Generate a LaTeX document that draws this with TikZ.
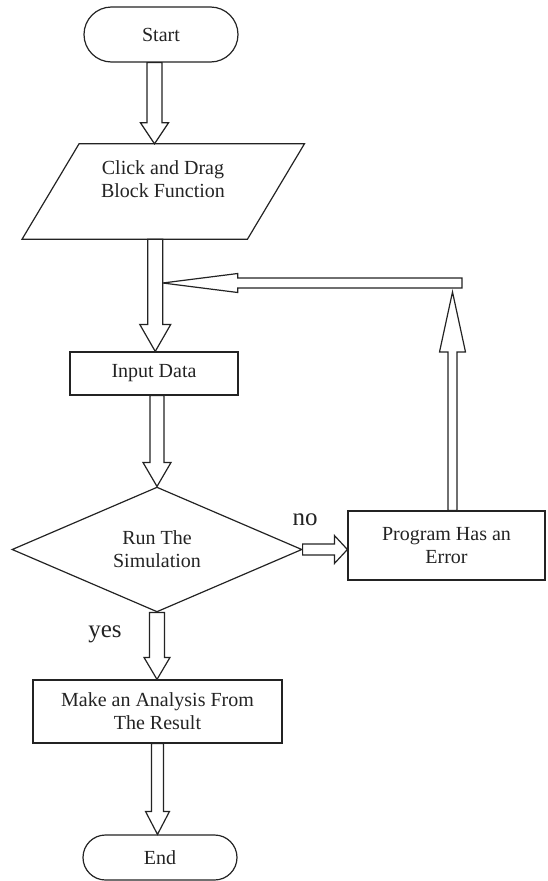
\documentclass[tikz,border=0pt]{standalone}
\usepackage{fontspec}
\setmainfont{Liberation Serif}
\usetikzlibrary{calc,shapes.geometric,shapes.misc}
\definecolor{ink}{RGB}{35,35,35}

% hollow block arrow: #1 tail, #2 tip, #3 shaft half-width,
% #4 head length, #5 head half-width
\newcommand\blockarrow[5]{%
  \coordinate (ba-neck) at ($(#2)!#4!(#1)$);
  \draw[blockline]
    ($(#1)!#3!90:(#2)$) -- ($(ba-neck)!#3!-90:(#1)$)
    -- ($(ba-neck)!#5!-90:(#1)$) -- (#2)
    -- ($(ba-neck)!#5!90:(#1)$) -- ($(ba-neck)!#3!90:(#1)$)
    -- ($(#1)!#3!-90:(#2)$) -- cycle;
}

\begin{document}
\begin{tikzpicture}[x=1pt,y=-1pt,
  every node/.style={text=ink, font=\fontsize{20}{23}\selectfont, inner sep=0pt},
  shapeline/.style={draw=ink, line width=1.2pt},
  terminal/.style={shapeline, rounded rectangle, minimum width=154pt},
  procbox/.style={shapeline, rectangle, align=center},
  decision/.style={shapeline, diamond, align=center, minimum width=290pt, minimum height=115pt},
  blockline/.style={draw=ink, line width=1.2pt, fill=white, line join=miter},
  lbl/.style={font=\fontsize{25}{28}\selectfont}
]
\useasboundingbox (0,0) rectangle (547,881);

% nodes
\node[terminal, minimum height=55pt] (start) at (161,34.5) {Start};
\node[minimum width=225pt, minimum height=95pt] (para) at (163.25,191.5) {};
\draw[shapeline] ([xshift=28.5pt]para.north west) -- ([xshift=28.5pt]para.north east)
  -- ([xshift=-28.5pt]para.south east) -- ([xshift=-28.5pt]para.south west) -- cycle;
\node[align=center] (paratext) at (163,179) {Click and Drag\\Block Function};
\node[procbox, minimum width=168pt, minimum height=43pt] (input) at (154,373.5) {Input Data};
\node[decision] (sim) at (157,549.5) {Run The\\Simulation};
\node[procbox, minimum width=197pt, minimum height=69pt] (error) at (446.5,545.5) {Program Has an\\Error};
\node[procbox, minimum width=249pt, minimum height=63pt] (analysis) at (157.5,711.5) {Make an Analysis From\\The Result};
\node[terminal, minimum height=45pt] (end) at (160,857.5) {End};

\node[lbl] (no) at (305,520) {no};
\node[lbl] (yes) at (105,634) {yes};

% connector end points
\coordinate (a1t) at ([xshift=-6.5pt]start.south);
\coordinate (a1h) at (a1t |- para.north);
\coordinate (a2t) at ([xshift=-8pt]para.south);
\coordinate (a2h) at (a2t |- input.north);
\coordinate (a3t) at ([xshift=3pt]input.south);
\coordinate (a3h) at (a3t |- sim.north);
\coordinate (a4h) at (sim.south |- analysis.north);
\coordinate (a5h) at (analysis.south |- end.north);
\coordinate (a6h) at (sim.east -| error.west);
\coordinate (a7t) at ([xshift=6pt]error.north);
\coordinate (loopup) at (452.5,292);
\coordinate (loopend) at (462,283);
\coordinate (loopin) at ([xshift=7.5pt]a2t |- loopend);

% block arrows
\blockarrow{a1t}{a1h}{7.5pt}{21pt}{14pt}
\blockarrow{a7t}{loopup}{4.5pt}{60pt}{13pt}
\blockarrow{loopend}{loopin}{5pt}{75pt}{9.5pt}
\blockarrow{a2t}{a2h}{7.5pt}{27pt}{15.5pt}
\blockarrow{a3t}{a3h}{7pt}{24pt}{14pt}
\blockarrow{sim.south}{a4h}{7.5pt}{22pt}{13pt}
\blockarrow{analysis.south}{a5h}{6pt}{23pt}{12pt}
\blockarrow{sim.east}{a6h}{5.5pt}{13pt}{14pt}
\end{tikzpicture}
\end{document}
